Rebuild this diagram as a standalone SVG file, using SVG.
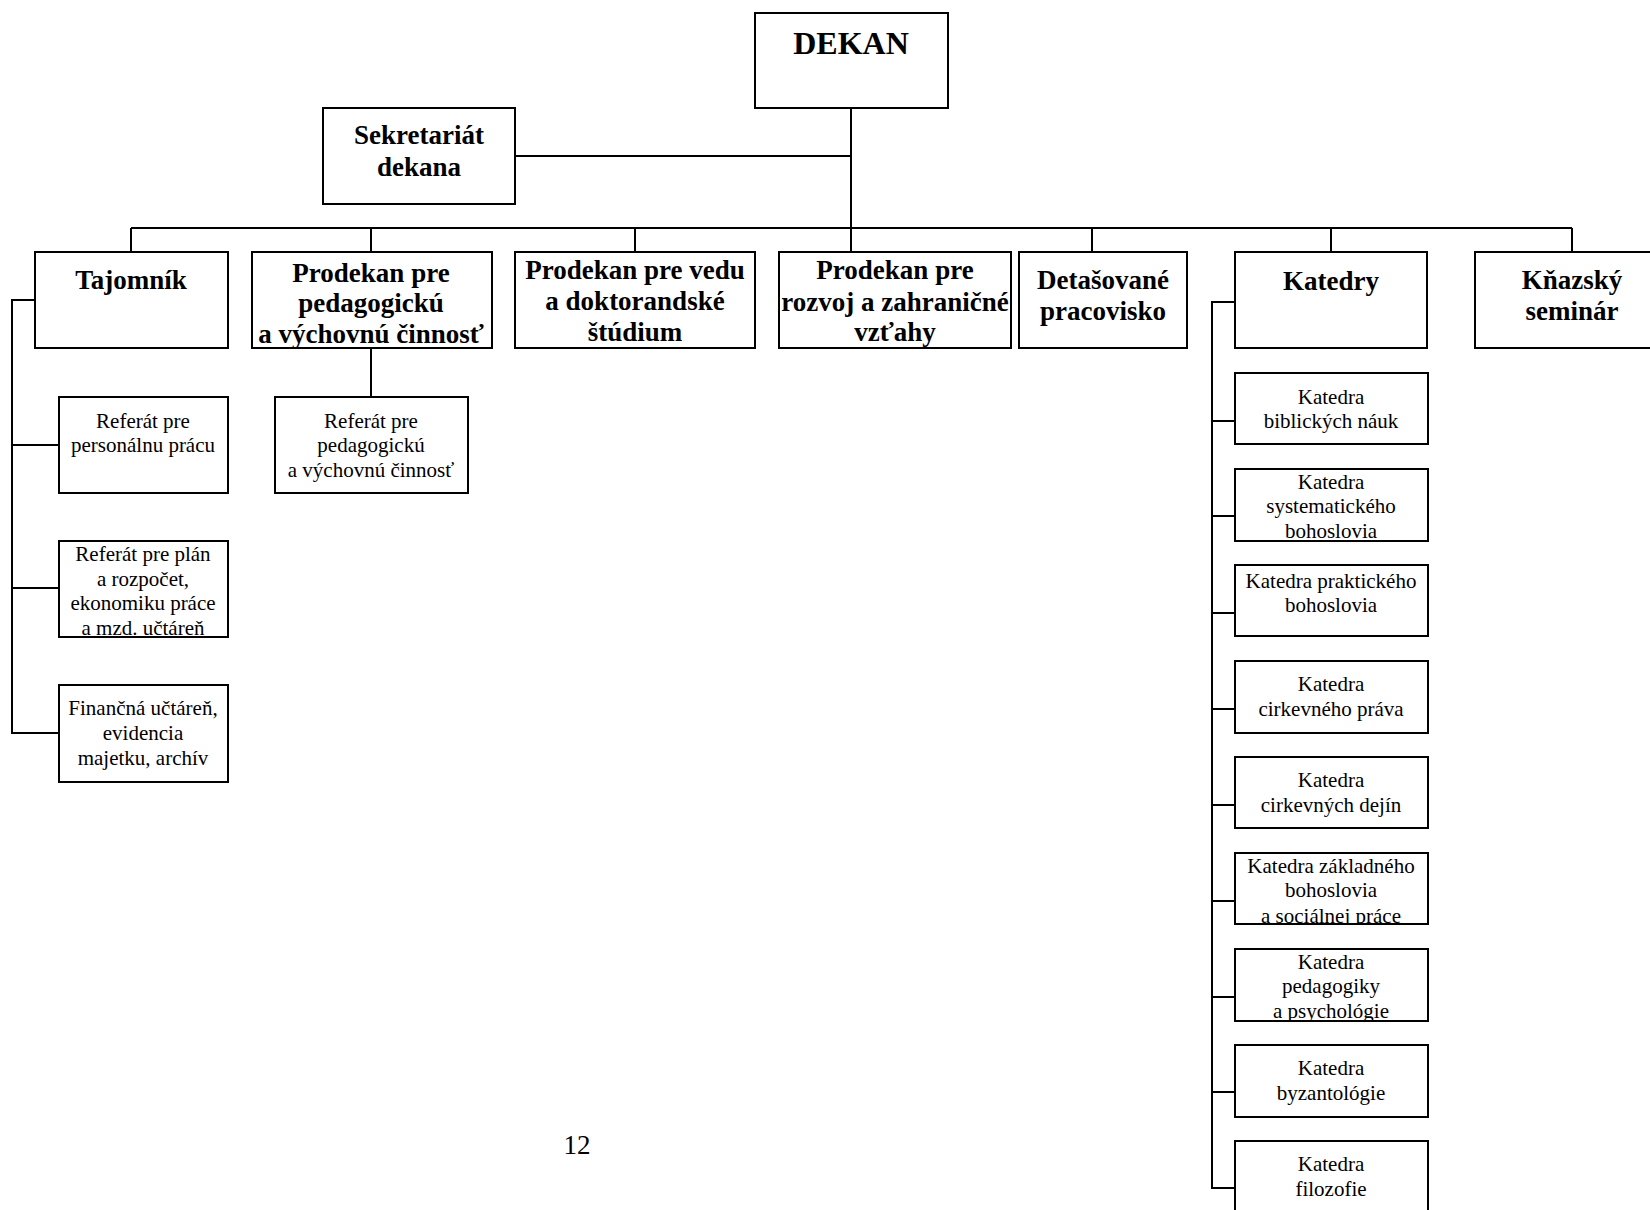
<svg xmlns="http://www.w3.org/2000/svg" width="1650" height="1210" viewBox="0 0 1650 1210">
<style>
.box{fill:#fff;stroke:#000;stroke-width:2}
.ln{fill:none;stroke:#000;stroke-width:2}
text{font-family:"Liberation Serif","Times New Roman",serif;fill:#000;text-anchor:middle}
.b{font-weight:bold;font-size:27px}
.big{font-weight:bold;font-size:32px}
.r{font-size:21px}
.pg{font-size:27px}
</style>
<defs>
<clipPath id="cPlan"><rect x="59" y="541" width="169" height="95"/></clipPath>
<clipPath id="cK2"><rect x="1235" y="469" width="193" height="71"/></clipPath>
<clipPath id="cK6"><rect x="1235" y="853" width="193" height="71"/></clipPath>
<clipPath id="cK7"><rect x="1235" y="949" width="193" height="71"/></clipPath>
</defs>
<rect width="1650" height="1210" fill="#fff"/>
<g id="connectors">
<path class="ln" d="M851,108V252M515,156H851M131,228H1572M131,228V252M371,228V252M635,228V252M1092,228V252M1331,228V252M1572,228V252"/>
<path class="ln" d="M35,300H12V733H59M12,445H59M12,588H59"/>
<path class="ln" d="M371,348V397"/>
<path class="ln" d="M1235,302H1212V1188H1235M1212,421H1235M1212,516H1235M1212,613H1235M1212,709H1235M1212,805H1235M1212,901H1235M1212,997H1235M1212,1092H1235"/>
</g>
<g id="dekan"><rect class="box" x="755" y="13" width="193" height="95"/><text class="big" x="851" y="54">DEKAN</text></g>
<g id="sekretariat"><rect class="box" x="323" y="108" width="192" height="96"/><text class="b" x="419" y="144">Sekretariát</text><text class="b" x="419" y="176">dekana</text></g>
<g id="tajomnik"><rect class="box" x="35" y="252" width="193" height="96"/><text class="b" x="131" y="289">Tajomník</text></g>
<g id="prodekan-ped"><rect class="box" x="252" y="252" width="240" height="96"/><text class="b" x="371" y="282">Prodekan pre</text><text class="b" x="371" y="312">pedagogickú</text><text class="b" x="371" y="343">a výchovnú činnosť</text></g>
<g id="prodekan-veda"><rect class="box" x="515" y="252" width="240" height="96"/><text class="b" x="635" y="279">Prodekan pre vedu</text><text class="b" x="635" y="310">a doktorandské</text><text class="b" x="635" y="341">štúdium</text></g>
<g id="prodekan-rozvoj"><rect class="box" x="779" y="252" width="232" height="96"/><text class="b" x="895" y="279">Prodekan pre</text><text class="b" x="895" y="311">rozvoj a zahraničné</text><text class="b" x="895" y="341">vzťahy</text></g>
<g id="detasovane"><rect class="box" x="1019" y="252" width="168" height="96"/><text class="b" x="1103" y="289">Detašované</text><text class="b" x="1103" y="320">pracovisko</text></g>
<g id="katedry"><rect class="box" x="1235" y="252" width="192" height="96"/><text class="b" x="1331" y="290">Katedry</text></g>
<g id="knazsky"><rect class="box" x="1475" y="252" width="194" height="96"/><text class="b" x="1572" y="289">Kňazský</text><text class="b" x="1572" y="320">seminár</text></g>
<g id="ref-personal"><rect class="box" x="59" y="397" width="169" height="96"/><text class="r" x="143" y="428">Referát pre</text><text class="r" x="143" y="452">personálnu prácu</text></g>
<g id="ref-plan"><rect class="box" x="59" y="541" width="169" height="96"/><g clip-path="url(#cPlan)"><text class="r" x="143" y="561">Referát pre plán</text><text class="r" x="143" y="586">a rozpočet,</text><text class="r" x="143" y="610">ekonomiku práce</text><text class="r" x="143" y="635">a mzd. učtáreň</text></g></g>
<g id="ref-financna"><rect class="box" x="59" y="685" width="169" height="97"/><text class="r" x="143" y="715">Finančná učtáreň,</text><text class="r" x="143" y="740">evidencia</text><text class="r" x="143" y="765">majetku, archív</text></g>
<g id="ref-ped"><rect class="box" x="275" y="397" width="193" height="96"/><text class="r" x="371" y="428">Referát pre</text><text class="r" x="371" y="452">pedagogickú</text><text class="r" x="371" y="477">a výchovnú činnosť</text></g>
<g id="k-biblicke"><rect class="box" x="1235" y="373" width="193" height="71"/><text class="r" x="1331" y="404">Katedra</text><text class="r" x="1331" y="428">biblických náuk</text></g>
<g id="k-systematicke"><rect class="box" x="1235" y="469" width="193" height="72"/><g clip-path="url(#cK2)"><text class="r" x="1331" y="489">Katedra</text><text class="r" x="1331" y="513">systematického</text><text class="r" x="1331" y="538">bohoslovia</text></g></g>
<g id="k-prakticke"><rect class="box" x="1235" y="565" width="193" height="71"/><text class="r" x="1331" y="588">Katedra praktického</text><text class="r" x="1331" y="612">bohoslovia</text></g>
<g id="k-pravo"><rect class="box" x="1235" y="661" width="193" height="72"/><text class="r" x="1331" y="691">Katedra</text><text class="r" x="1331" y="716">cirkevného práva</text></g>
<g id="k-dejiny"><rect class="box" x="1235" y="757" width="193" height="71"/><text class="r" x="1331" y="787">Katedra</text><text class="r" x="1331" y="812">cirkevných dejín</text></g>
<g id="k-zakladne"><rect class="box" x="1235" y="853" width="193" height="71"/><g clip-path="url(#cK6)"><text class="r" x="1331" y="873">Katedra základného</text><text class="r" x="1331" y="897">bohoslovia</text><text class="r" x="1331" y="923">a sociálnej práce</text></g></g>
<g id="k-pedagogika"><rect class="box" x="1235" y="949" width="193" height="72"/><g clip-path="url(#cK7)"><text class="r" x="1331" y="969">Katedra</text><text class="r" x="1331" y="993">pedagogiky</text><text class="r" x="1331" y="1018">a psychológie</text></g></g>
<g id="k-byzantologia"><rect class="box" x="1235" y="1045" width="193" height="72"/><text class="r" x="1331" y="1075">Katedra</text><text class="r" x="1331" y="1100">byzantológie</text></g>
<g id="k-filozofia"><rect class="box" x="1235" y="1141" width="193" height="90"/><text class="r" x="1331" y="1171">Katedra</text><text class="r" x="1331" y="1196">filozofie</text></g>
<text class="pg" x="577" y="1154">12</text>
</svg>
